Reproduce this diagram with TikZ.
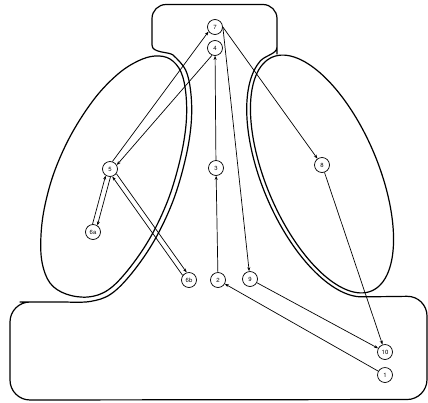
\documentclass[tikz,border=0pt]{standalone}
\usepackage{fontspec}
\setsansfont{TeX Gyre Heros}
\usetikzlibrary{arrows.meta,calc}
\begin{document}
\begin{tikzpicture}[x=1pt,y=-1pt,
  outline/.style={line width=1.2pt, line join=round, line cap=round},
  stn/.style={circle, draw, line width=0.7pt, minimum size=15pt, inner sep=0pt,
    fill=white, font=\sffamily\fontsize{6}{6}\selectfont},
  flow/.style={line width=0.7pt, -{Stealth[length=4pt,width=3pt]}},
  par/.style={flow, shorten >=7.5pt, shorten <=7.5pt}]
\useasboundingbox (0,0) rectangle (428,402);

% left lobe
\draw[outline] plot[smooth cycle, tension=0.6] coordinates {
  (155,56) (170,59) (181,72) (186,95) (186,125) (180,160) (168,200)
  (150,238) (128,270) (108,290) (88,297) (66,294) (50,283) (42,262)
  (41,235) (45,205) (55,170) (72,133) (95,98) (118,74) (138,61)};
% right lobe
\draw[outline] plot[domain=0:357, samples=120, smooth cycle, variable=\t]
  ({322+49.62*cos(\t)-51.55*sin(\t)},{174+116.90*cos(\t)+21.88*sin(\t)});

% body outline: head, inner flanks of the lobes, lower block
\draw[outline]
  (152,45) -- (152,40) [rounded corners=14pt] -- (152,4.5) -- (277,4.5) -- (277,40)
  [sharp corners] -- (277,47)
  .. controls (277,55) and (263,55) .. (258.3,63.6)
  -- plot[domain=0:1, samples=80, smooth, variable=\s]
     ({322+51.18*cos(165-154*\s)-55.23*sin(165-154*\s)},
      {174+120.59*cos(165-154*\s)+23.44*sin(165-154*\s)})
  -- (395,296.5) [rounded corners=20pt] -- (427,296) -- (427,399.5) -- (10,400)
  -- (10,302) -- (40,302) [sharp corners]
  -- plot[smooth, tension=0.6] coordinates {
     (66,302) (90,301.5) (110.8,294.1) (131.9,273.1) (154.3,240.5)
     (172.7,201.8) (184.9,161.2) (191,125.5) (191,94.5) (185.6,70) (172.6,54.7)}
  .. controls (167.5,51.6) and (152,53) .. (152,45);

% stations
\node[stn] (n7)  at (215,27)  {7};
\node[stn] (n4)  at (215,48)  {4};
\node[stn] (n5)  at (110,169) {5};
\node[stn] (n6a) at (93,232)  {6a};
\node[stn] (n6b) at (189,280) {6b};
\node[stn] (n3)  at (216,168) {3};
\node[stn] (n2)  at (218,280) {2};
\node[stn] (n9)  at (250,279) {9};
\node[stn] (n8)  at (322,165) {8};
\node[stn] (n10) at (385,352) {10};
\node[stn] (n1)  at (385,375) {1};

% single flows
\draw[flow] (n1) -- (n2);
\draw[flow] (n2) -- (n3);
\draw[flow] (n3) -- (n4);
\draw[flow] (n7.east) -- (n8);
\draw[flow] (n7.east) -- (n9);
\draw[flow] (n8) -- (n10);
\draw[flow] (n9) -- (n10);

% paired flows
\draw[par] ($(n4)!2.5pt!90:(n5)$) -- ($(n5)!2.5pt!-90:(n4)$);
\draw[par] ($(n5)!2.5pt!90:(n7)$) -- ($(n7)!2.5pt!-90:(n5)$);
\draw[par] ($(n6a)!2.5pt!90:(n5)$) -- ($(n5)!2.5pt!-90:(n6a)$);
\draw[par] ($(n5)!2.5pt!90:(n6a)$) -- ($(n6a)!2.5pt!-90:(n5)$);
\draw[par] ($(n6b)!2.5pt!90:(n5)$) -- ($(n5)!2.5pt!-90:(n6b)$);
\draw[par] ($(n5)!2.5pt!90:(n6b)$) -- ($(n6b)!2.5pt!-90:(n5)$);
\end{tikzpicture}
\end{document}
